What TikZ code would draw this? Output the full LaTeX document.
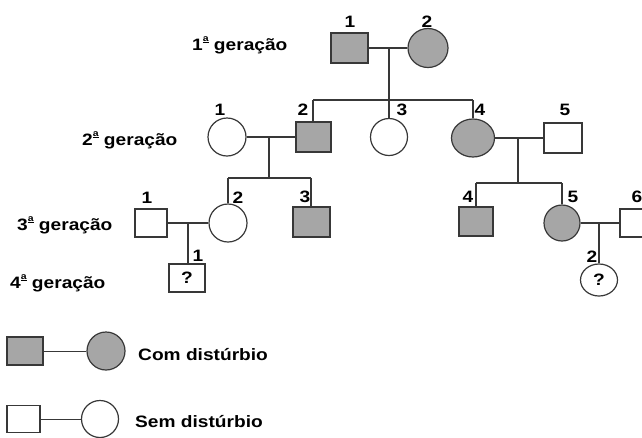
\documentclass[tikz,border=0pt]{standalone}
\usepackage{fontspec}
\setmainfont{Liberation Sans}[FakeStretch=1.16]
\usetikzlibrary{shapes.geometric}
\definecolor{aff}{HTML}{A6A6A6}
\definecolor{ln}{HTML}{383838}
\newcommand\ordA{\raisebox{7pt}{\fontsize{9}{9}\selectfont\setbox0\hbox{a}\vbox{\copy0\kern0.8pt\hrule height 1.1pt width \wd0}}}
\tikzset{
  male/.style={draw=ln, line width=1.3pt, rectangle, inner sep=0pt, minimum width=36pt, minimum height=29pt, fill=white},
  female/.style={draw=ln, line width=1.2pt, ellipse, inner sep=0pt, minimum width=38pt, minimum height=38pt, fill=white},
  affected/.style={fill=aff},
  lbl/.style={font=\bfseries\fontsize{16.5}{18}\selectfont, inner sep=0pt, anchor=base, text=black},
  txt/.style={font=\bfseries\fontsize{16.5}{18}\selectfont, inner sep=0pt, anchor=base west, text=black},
  link/.style={draw=ln, line width=1.3pt},
}
\begin{document}
\begin{tikzpicture}[x=1pt,y=-1pt]
\useasboundingbox (0,0) rectangle (642,437);
\clip (0,0) rectangle (642,437);
\fill[white] (0,0) rectangle (642,437);

% generation labels
\node[txt] (g1) at (192,50) {1\ordA\ geração};
\node[txt] (g2) at (82,145) {2\ordA\ geração};
\node[txt] (g3) at (17,230) {3\ordA\ geração};
\node[txt] (g4) at (10,288) {4\ordA\ geração};

% coordinates for connectors
\coordinate (u1) at (389,48);
\coordinate (sib1L) at (313,100);
\coordinate (sib1R) at (473,100);
\coordinate (u21) at (269,137);
\coordinate (sib21L) at (228,178);
\coordinate (sib21R) at (311,178);
\coordinate (u22) at (518,138);
\coordinate (sib22L) at (476,183);
\coordinate (sib22R) at (562,183);
\coordinate (u31) at (188,223);
\coordinate (u32) at (599,223);

% generation 1
\node[male, affected, minimum width=37pt, minimum height=30pt] (m1) at (349.5,48) {};
\node[female, affected, minimum width=40pt, minimum height=39pt] (f2) at (428,48) {};

% generation 2
\node[female] (c21) at (227,137) {};
\node[male, affected, minimum width=35pt, minimum height=30pt] (s22) at (313.5,137) {};
\node[female, minimum width=37pt, minimum height=37pt] (c23) at (389,137) {};
\node[female, affected, minimum width=43pt, minimum height=38pt] (c24) at (473,138) {};
\node[male, minimum width=38pt, minimum height=30pt] (s25) at (563,138) {};

% generation 3
\node[male, minimum width=32pt, minimum height=28pt] (s31) at (151,223) {};
\node[female] (c32) at (228,223) {};
\node[male, affected, minimum width=37pt, minimum height=30pt] (s33) at (311.5,222) {};
\node[male, affected, minimum width=34pt, minimum height=29pt] (s34) at (476,221.5) {};
\node[female, affected, minimum width=36pt, minimum height=36pt] (c35) at (562,223) {};
\node[male, minimum width=34pt, minimum height=28pt] (s36) at (637,223) {};

% generation 4
\node[male, minimum width=36pt, minimum height=28pt, font=\bfseries\fontsize{16.5}{18}\selectfont] (s41) at (187,278) {?};
\node[female, minimum width=37pt, minimum height=32pt, font=\bfseries\fontsize{16.5}{18}\selectfont] (e42) at (599,280) {?};

% connectors
\draw[link] (m1) -- (f2);
\draw[link] (u1) -- (u1 |- c23.north);
\draw[link] (sib1L) -- (sib1R);
\draw[link] (sib1L) -- (sib1L |- s22.north);
\draw[link] (sib1R) -- (sib1R |- c24.north);

\draw[link] (c21) -- (s22);
\draw[link] (u21) -- (u21 |- sib21L);
\draw[link] (sib21L) -- (sib21R);
\draw[link] (sib21L) -- (sib21L |- c32.north);
\draw[link] (sib21R) -- (sib21R |- s33.north);

\draw[link] (c24) -- (s25);
\draw[link] (u22) -- (u22 |- sib22L);
\draw[link] (sib22L) -- (sib22R);
\draw[link] (sib22L) -- (sib22L |- s34.north);
\draw[link] (sib22R) -- (sib22R |- c35.north);

\draw[link] (s31) -- (c32);
\draw[link] (u31) -- (u31 |- s41.north);
\draw[link] (c35) -- (s36);
\draw[link] (u32) -- (u32 |- e42.north);

% number labels
\node[lbl] (n11) at (350,27) {1};
\node[lbl] (n12) at (427,27) {2};
\node[lbl] (n21) at (220,115) {1};
\node[lbl] (n22) at (303,115) {2};
\node[lbl] (n23) at (402,115) {3};
\node[lbl] (n24) at (480,115) {4};
\node[lbl] (n25) at (565,115) {5};
\node[lbl] (n31) at (147,203) {1};
\node[lbl] (n32) at (238,203) {2};
\node[lbl] (n33) at (305,202) {3};
\node[lbl] (n34) at (468,202) {4};
\node[lbl] (n35) at (573,202) {5};
\node[lbl] (n36) at (637,202) {6};
\node[lbl] (n41) at (198,261) {1};
\node[lbl] (n42) at (592,262) {2};

% legend
\node[male, affected, minimum width=36pt, minimum height=28pt] (L1s) at (25,351) {};
\node[female, affected] (L1c) at (106,351) {};
\draw[link, line width=1pt] (L1s) -- (L1c);
\node[txt] (L1t) at (138,360) {Com distúrbio};

\node[male, minimum width=33pt, minimum height=27pt] (L2s) at (23.5,419) {};
\node[female, minimum width=37pt, minimum height=37pt] (L2c) at (100,419) {};
\draw[link, line width=1pt] (L2s) -- (L2c);
\node[txt] (L2t) at (135,427) {Sem distúrbio};
\end{tikzpicture}
\end{document}
